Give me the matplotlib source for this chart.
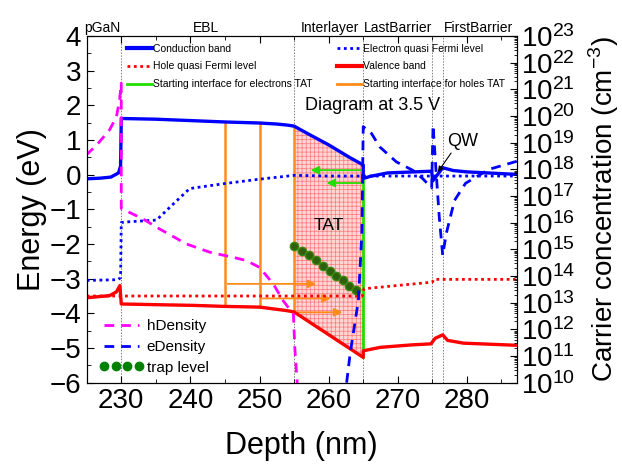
import matplotlib
matplotlib.use("Agg")
import matplotlib.pyplot as plt
import numpy as np
from matplotlib.lines import Line2D
from matplotlib.ticker import MultipleLocator, LogLocator, NullFormatter

plt.rcParams['font.family'] = ['Liberation Sans', 'DejaVu Sans']
plt.rcParams['hatch.linewidth'] = 0.5

# band diagram (eV)
cb_x = [225, 227, 228.5, 229.6, 229.9, 230.0, 235, 240, 245, 250, 252.5, 254, 255, 257, 260, 263, 265.0,
        265.0, 266, 268.5, 274.9, 275.05, 276.5, 278, 280, 287]
cb_y = [-0.12, -0.1, -0.07, 0.05, 0.25, 1.62, 1.60, 1.56, 1.52, 1.49, 1.46, 1.43, 1.40, 1.18, 0.86, 0.50, 0.28,
        -0.11, -0.05, 0.05, 0.10, -0.18, 0.20, 0.12, 0.08, 0.01]

efn_x = [225, 229.5, 229.9, 230.0, 231, 235.1, 237.5, 239.9, 245.2, 250, 255, 260, 287]
efn_y = [-3.05, -3.03, -2.97, -1.38, -1.36, -1.31, -0.85, -0.40, -0.25, -0.13, -0.02, -0.04, -0.04]

efp_x = [225, 264.9, 265.1, 275.0, 275.2, 287]
efp_y = [-3.5, -3.5, -3.29, -3.1, -3.02, -3.02]

vb_x = [225, 228.3, 229.3, 229.8, 230.0, 235, 240.4, 245, 250, 253.9, 255, 265.0,
        265.0, 267.5, 272, 274.8, 275.4, 276.5, 277.2, 279.5, 287]
vb_y = [-3.55, -3.49, -3.38, -3.2, -3.73, -3.75, -3.77, -3.80, -3.82, -3.92, -3.96, -5.27,
        -5.08, -4.98, -4.91, -4.88, -4.72, -4.62, -4.78, -4.86, -4.92]

# carrier densities (cm^-3)
h_x = [224.9, 226.4, 228.3, 229.3, 229.75, 230.0, 230.0, 233.1, 235.5, 239.4, 242.8, 246.2, 248.1, 250.0,
       252.0, 253.4, 254.9, 255.1, 255.4, 255.6]
h_dens = [3.4e18, 7.9e18, 3.0e19, 9.3e19, 4.0e20, 1.7e21, 3.4e16, 1.4e16, 5.9e15, 1.6e15, 7.8e14, 5.0e14,
          3.8e14, 2.1e14, 5.0e13, 1.2e13, 3.7e12, 2.1e11, 1.5e10, 3.0e9]

e_x = [262.6, 263.1, 264.3, 264.8, 265.0, 266.2, 267.4, 269.8, 272.2, 273.6, 274.9, 275.1, 275.5, 276.0,
       276.5, 277.0, 278.2, 279.8, 283.2, 287.2]
e_dens = [1.0e10, 1.2e11, 1.2e13, 3.8e15, 4.0e19, 2.2e19, 6.9e18, 1.9e18, 9.1e17, 4.5e17, 2.0e17, 4.5e19,
          1.2e18, 1.6e16, 5.9e14, 3.8e15, 6.8e16, 3.0e17, 1.0e18, 2.0e18]

# trap levels
trap_x = [254.97, 256.08, 257.15, 258.16, 259.22, 260.19, 261.06, 262.03, 262.99, 263.96]
trap_y = [-2.06, -2.20, -2.33, -2.47, -2.62, -2.78, -2.93, -3.05, -3.20, -3.34]

# region borders and names
borders = [230, 255, 265, 275, 276.5]
region_names = ['pGaN', 'EBL', 'Interlayer', 'LastBarrier', 'FirstBarrier']
region_pos = [227.3, 242.3, 260.2, 270.1, 281.7]

# TAT starting positions
hole_start = [245, 250, 255]
hole_arrow_y = [-3.15, -3.57, -3.97]
hole_arrow_end = [258.6, 260.7, 262.4]
elec_arrow_y = [0.13, -0.24]
elec_arrow_end = [257.0, 259.3]

blue = '#0000ff'
red = '#ff0000'
magenta = '#ff00ff'
green = '#22dd00'
orange = '#ff8c1a'

fig = plt.figure(figsize=(6.22, 4.68), dpi=100)
ax = fig.add_axes([0.1394, 0.1823, 0.6913, 0.7408])
ax2 = ax.twinx()

for b in borders:
    ax.axvline(b, color='gray', ls=(0, (1.5, 1.5)), lw=0.7, zorder=1)

# TAT region
tx = np.linspace(255, 265, 200)
ax.fill_between(tx, np.interp(tx, cb_x[:17], cb_y[:17]), np.interp(tx, vb_x[:12], vb_y[:12]),
                facecolor='#ffd6d6', edgecolor='#ff7a7a', hatch='++++', linewidth=0, zorder=2)

# hole TAT starting lines and arrows
for xs, ya, xe in zip(hole_start, hole_arrow_y, hole_arrow_end):
    top = np.interp(xs, cb_x[:17], cb_y[:17])
    bot = np.interp(xs, vb_x[:12], vb_y[:12])
    ax.plot([xs, xs], [bot, top], color=orange, lw=1.8, zorder=3)
    ax.annotate('', xy=(xe, ya), xytext=(xs, ya),
                arrowprops=dict(arrowstyle='-|>', color=orange, lw=1.3, mutation_scale=12), zorder=3)

# electron TAT starting line and arrows
ax.plot([265, 265], [cb_y[17], vb_y[11]], color=green, lw=2, zorder=3)
for ya, xe in zip(elec_arrow_y, elec_arrow_end):
    ax.annotate('', xy=(xe, ya), xytext=(265, ya),
                arrowprops=dict(arrowstyle='-|>', color=green, lw=1.3, mutation_scale=12), zorder=3)

l_cb, = ax.plot(cb_x, cb_y, color=blue, lw=2.4, zorder=4)
l_efn, = ax.plot(efn_x, efn_y, color=blue, lw=2, ls=(0, (1, 1.3)), zorder=4)
l_efp, = ax.plot(efp_x, efp_y, color=red, lw=2, ls=(0, (1, 1.3)), zorder=4)
l_vb, = ax.plot(vb_x, vb_y, color=red, lw=2.4, zorder=4)
l_trap, = ax.plot(trap_x, trap_y, 'o', color='#2f6010', markeredgecolor='#3a8a10', ms=6, zorder=5)

l_h, = ax2.plot(h_x, h_dens, color=magenta, lw=2, ls=(0, (3.5, 2.5)))
l_e, = ax2.plot(e_x, e_dens, color=blue, lw=2, ls=(0, (3.5, 2.5)))

ax.set_xlim(225, 287.2)
ax.set_ylim(-6, 4)
ax2.set_yscale('log')
ax2.set_ylim(1e10, 1e23)

ax.xaxis.set_major_locator(MultipleLocator(10))
ax.xaxis.set_minor_locator(MultipleLocator(5))
ax.yaxis.set_major_locator(MultipleLocator(1))
ax.yaxis.set_minor_locator(MultipleLocator(0.5))
ax.tick_params(which='both', direction='in', top=True, labelsize=20, pad=4)
ax.tick_params(which='major', length=5)
ax.tick_params(which='minor', length=3)
ax2.yaxis.set_major_locator(LogLocator(base=10, numticks=30))
ax2.yaxis.set_minor_locator(LogLocator(base=10, subs=np.arange(2, 10), numticks=30))
ax2.yaxis.set_minor_formatter(NullFormatter())
ax2.tick_params(which='both', direction='in', labelsize=20, pad=3)
ax2.tick_params(which='major', length=5)
ax2.tick_params(which='minor', length=2.5)

ax.set_xlabel('Depth (nm)', fontsize=22, labelpad=12)
ax.set_ylabel('Energy (eV)', fontsize=22, labelpad=2)
ax2.set_ylabel('Carrier concentration (cm$^{\\mathregular{-3}}$)', fontsize=20, labelpad=8)

for name, xp in zip(region_names, region_pos):
    ax.text(xp, 1.004, name, transform=ax.get_xaxis_transform(), ha='center', va='bottom', fontsize=10)

ax.text(256.6, 2.0, 'Diagram at 3.5 V', fontsize=13, va='center', zorder=6)
ax.text(257.8, -1.46, 'TAT', fontsize=12.5, va='center', zorder=6)
ax.annotate('QW', xy=(275.8, 0.08), xytext=(277.1, 0.95), fontsize=13, va='center',
            arrowprops=dict(arrowstyle='-|>', color='black', lw=0.8, mutation_scale=8,
                            shrinkA=0, shrinkB=0, relpos=(0.2, 0)), zorder=6)

top_handles = [Line2D([], [], color=blue, lw=3),
               Line2D([], [], color=blue, lw=2, ls=(0, (1, 1.3))),
               Line2D([], [], color=red, lw=2, ls=(0, (1, 1.3))),
               Line2D([], [], color=red, lw=3),
               Line2D([], [], color=green, lw=2),
               Line2D([], [], color=orange, lw=2)]
top_labels = ['Conduction band', 'Electron quasi Fermi level', 'Hole quasi Fermi level', 'Valence band',
              'Starting interface for electrons TAT', 'Starting interface for holes TAT']
order = [0, 2, 4, 1, 3, 5]
leg1 = ax2.legend([top_handles[i] for i in order], [top_labels[i] for i in order], ncol=2,
                  loc='upper left', bbox_to_anchor=(0.085, 0.99), frameon=False, fontsize=7.5,
                  handlelength=2.4, handletextpad=0.1, columnspacing=2.3, labelspacing=0.75,
                  borderaxespad=0)
ax2.add_artist(leg1)

bottom_handles = [Line2D([], [], color=magenta, lw=2, ls=(0, (3.5, 2.5))),
                  Line2D([], [], color=blue, lw=2, ls=(0, (3.5, 2.5))),
                  Line2D([], [], color='green', marker='o', ls='none', ms=6)]
ax2.legend(bottom_handles, ['hDensity', 'eDensity', 'trap level'], loc='lower left',
           bbox_to_anchor=(0.015, 0.005), frameon=False, fontsize=11, handlelength=2.9,
           handletextpad=0.2, labelspacing=0.45, numpoints=4, borderaxespad=0)

fig.savefig('out.png', dpi=100)
